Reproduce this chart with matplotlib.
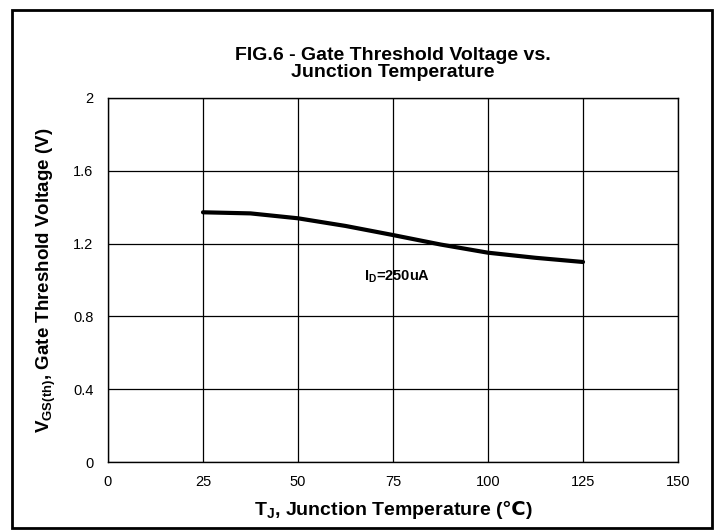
import matplotlib
matplotlib.use("Agg")
import matplotlib.pyplot as plt
from matplotlib.patches import Rectangle

plt.rcParams["font.family"] = ["Liberation Sans", "DejaVu Sans"]
plt.rcParams["mathtext.fontset"] = "custom"
plt.rcParams["mathtext.rm"] = "Liberation Sans:bold"
plt.rcParams["mathtext.bf"] = "Liberation Sans:bold"
plt.rcParams["mathtext.sf"] = "DejaVu Sans:bold"   # has the degree-Celsius glyph

# Vgs(th) vs Tj curve
temp_c = [25, 37.5, 50, 62.5, 75, 87.5, 100, 112.5, 125]
vgs_th = [1.372, 1.366, 1.339, 1.297, 1.247, 1.195, 1.150, 1.122, 1.099]
x_ticks = [0, 25, 50, 75, 100, 125, 150]
y_ticks = [0, 0.4, 0.8, 1.2, 1.6, 2.0]
y_labels = ["0", "0.4", "0.8", "1.2", "1.6", "2"]

W, H = 718, 531
fig = plt.figure(figsize=(W / 100, H / 100), dpi=100)
# plot box in pixels: x 108..678, y 98..462
ax = fig.add_axes([108 / W, 1 - 462 / H, 570 / W, 364 / H])

ax.plot(temp_c, vgs_th, c="black", lw=3, solid_capstyle="round")
ax.set_xlim(0, 150); ax.set_ylim(0, 2)
ax.set_xticks(x_ticks); ax.set_yticks(y_ticks)
ax.set_yticklabels(y_labels)
ax.tick_params(length=0, labelsize=10.5)
ax.tick_params(axis="x", pad=9)
ax.tick_params(axis="y", pad=10.5)
ax.grid(True, color="black", lw=0.9)
for sp in ax.spines.values():
    sp.set_linewidth(1.0)

ax.text(76, 1.02, r"I$_\mathregular{D}$=250uA", ha="center", va="center",
        fontsize=10.5, fontweight="bold")

ax.set_xlabel(r"T$_\mathregular{J}$, Junction Temperature ($\mathsf{℃}$)",
              fontsize=14, fontweight="bold")
ax.xaxis.label.set_va("baseline")
ax.xaxis.set_label_coords(0.5, (462 - 515) / 364)

ax.set_ylabel(r"V$_\mathregular{GS(th)}$, Gate Threshold Voltage (V)",
              fontsize=13.5, fontweight="bold")
ax.yaxis.label.set_va("center")
ax.yaxis.set_label_coords((46 - 108) / 570, 0.5)

ax.set_title("FIG.6 - Gate Threshold Voltage vs.\nJunction Temperature",
             fontsize=14, fontweight="bold", pad=15, linespacing=1.05)

fig.patches.append(Rectangle((12 / W, 3 / H), 700 / W, 518 / H,
                             transform=fig.transFigure, fill=False,
                             ec="black", lw=2))

fig.savefig("out.png", dpi=100)
plt.close(fig)
